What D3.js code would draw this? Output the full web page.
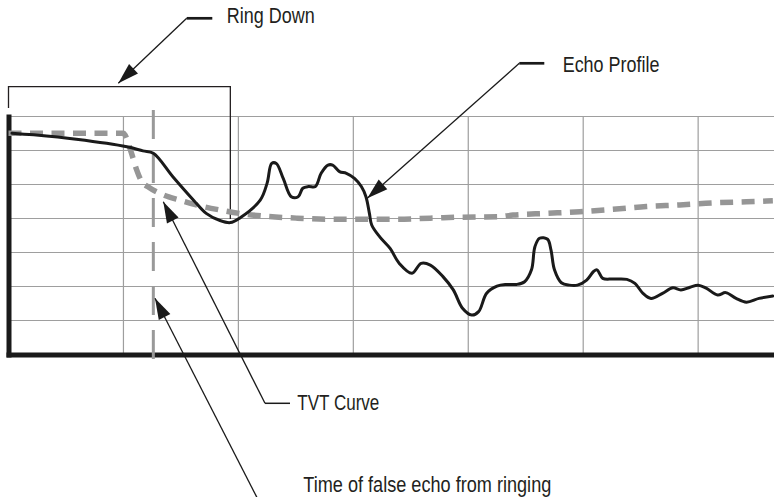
<!DOCTYPE html>
<html>
<head>
<meta charset="utf-8">
<script src="https://cdn.jsdelivr.net/npm/d3@7"></script>
<style>
  html, body { margin: 0; padding: 0; background: #fff; }
  svg { display: block; }
  text { font-family: "Liberation Sans Narrow", "Liberation Sans", Arial, sans-serif; fill: #231f20; }
</style>
</head>
<body>
<svg id="chart" width="774" height="497"></svg>
<script>
// Echo profile (time, level) — black trace
const echoTime = [0.3, 2.2, 5.9, 10.3, 11.7, 12.6, 14.3, 16.1, 17.2, 18.4, 19.3, 20.1, 21.9, 22.5, 22.9, 23.3, 23.9, 24.6, 25.2, 25.6, 26.1, 26.7, 27.2, 27.8, 28.2, 28.8, 29.4, 30.1, 30.7, 31.1, 31.4, 31.6, 32.3, 33.2, 34.0, 35.1, 35.9, 36.7, 37.8, 38.7, 39.5, 40.3, 40.9, 41.6, 42.5, 43.3, 44.2, 44.9, 45.5, 45.8, 46.2, 46.9, 47.2, 47.5, 48.1, 48.8, 49.5, 50.3, 50.9, 51.2, 51.7, 52.6, 53.8, 54.5, 55.2, 55.9, 56.9, 57.8, 58.5, 59.3, 60.0, 60.7, 61.7, 62.4, 63.3, 64.2, 65.3, 66.5];
const echoLevel = [65.1, 64.6, 63.3, 61.1, 59.9, 59.2, 52.3, 45.4, 41.5, 39.4, 38.8, 40.1, 45.4, 50.4, 56.2, 56.2, 51.8, 46.4, 46.4, 48.9, 49.4, 49.4, 53.3, 55.7, 55.7, 53.8, 53.3, 51.8, 49.4, 46.4, 41.5, 38.1, 34.6, 31.2, 26.8, 23.9, 26.8, 26.3, 22.9, 19.0, 13.6, 11.6, 12.6, 18.0, 20.1, 20.6, 20.6, 21.4, 24.9, 31.7, 34.2, 33.9, 30.7, 24.9, 21.1, 20.4, 20.4, 21.9, 24.4, 24.9, 22.4, 22.2, 22.1, 20.9, 18.0, 16.5, 18.0, 19.6, 19.0, 19.8, 20.4, 19.5, 17.5, 18.2, 16.5, 15.4, 16.5, 17.2];

// TVT curve (time, level) — grey dashed threshold
const tvtTime = [0, 10.0, 10.13, 10.7, 11.15, 11.6, 12.2, 13.5, 14.9, 16.7, 18.4, 20.1, 22.2, 25.1, 28.0, 31.4, 33.8, 36.7, 39.5, 42.5, 43.9, 46.8, 49.7, 52.6, 55.5, 58.4, 61.3, 64.2, 66.5];
const tvtLevel = [65.1, 65.1, 64.6, 59.2, 54.3, 50.8, 49.2, 46.9, 45.4, 43.7, 42.5, 41.5, 40.7, 40.1, 39.8, 39.8, 39.8, 40.1, 40.4, 40.5, 41.0, 41.5, 42.0, 42.7, 43.5, 44.0, 44.6, 44.9, 45.2];

// Grid divisions
const timeGrid = [10, 20, 30, 40, 50, 60];
const levelGrid = [10, 20, 30, 40, 50, 60, 70];

// Marked times
const falseEchoTime = 12.6;
const ringDownEnd = 19.3;

const svg = d3.select("#chart");
const W = 774;

const x = d3.scaleLinear().domain([0, 66.6]).range([8.5, 774]);
const y = d3.scaleLinear().domain([0, 70]).range([354.5, 116.5]);

const echo = echoTime.map((t, i) => [t, echoLevel[i]]);
const tvt = tvtTime.map((t, i) => [t, tvtLevel[i]]);

// grid
const grid = svg.append("g").attr("stroke", "#9e9e9e").attr("stroke-width", 1.2);
grid.selectAll("line.h").data(levelGrid).join("line")
  .attr("class", "h")
  .attr("x1", x(0)).attr("x2", W)
  .attr("y1", d => y(d)).attr("y2", d => y(d));
grid.selectAll("line.v").data(timeGrid).join("line")
  .attr("class", "v")
  .attr("x1", d => x(d)).attr("x2", d => x(d))
  .attr("y1", y(70)).attr("y2", y(0));

// axes
const axB = svg.append("g").attr("transform", `translate(0,${y(0)})`)
  .call(d3.axisBottom(x).tickValues([]).tickSizeOuter(0));
const axL = svg.append("g").attr("transform", `translate(${x(0)},0)`)
  .call(d3.axisLeft(y).tickValues([]).tickSizeOuter(0));
[axB, axL].forEach(g => g.select(".domain")
  .attr("stroke", "#1a1a1a").attr("stroke-width", 5).attr("stroke-linecap", "square"));

// Ring Down bracket
svg.append("path")
  .attr("d", `M${x(0)},108 V86.7 H${x(ringDownEnd)} V219`)
  .attr("fill", "none").attr("stroke", "#231f20").attr("stroke-width", 1.3);

// TVT curve
svg.append("path")
  .datum(tvt)
  .attr("d", d3.line().x(d => x(d[0])).y(d => y(d[1])).curve(d3.curveMonotoneX))
  .attr("fill", "none").attr("stroke", "#969696").attr("stroke-width", 5.5)
  .attr("stroke-dasharray", "13,8.5");

// false echo time marker
svg.append("line")
  .attr("x1", x(falseEchoTime)).attr("x2", x(falseEchoTime))
  .attr("y1", 110).attr("y2", 361)
  .attr("stroke", "#999999").attr("stroke-width", 3)
  .attr("stroke-dasharray", "29,15");

// echo profile
svg.append("path")
  .datum(echo)
  .attr("d", d3.line().x(d => x(d[0])).y(d => y(d[1])).curve(d3.curveCatmullRom.alpha(0.5)))
  .attr("fill", "none").attr("stroke", "#1a1a1a").attr("stroke-width", 3)
  .attr("stroke-linejoin", "round").attr("stroke-linecap", "round");

// callouts
function arrow(fx, fy, tx, ty) {
  const g = svg.append("g");
  g.append("line").attr("x1", fx).attr("y1", fy).attr("x2", tx).attr("y2", ty)
    .attr("stroke", "#1a1a1a").attr("stroke-width", 1.3);
  const a = Math.atan2(ty - fy, tx - fx);
  const L = 21, hw = 6.5;
  const bx = tx - L * Math.cos(a), by = ty - L * Math.sin(a);
  const px = -Math.sin(a) * hw, py = Math.cos(a) * hw;
  g.append("path")
    .attr("d", `M${tx},${ty} L${bx + px},${by + py} L${bx - px},${by - py} Z`)
    .attr("fill", "#1a1a1a");
}
function leader(x1, x2, yy, w) {
  svg.append("line").attr("x1", x1).attr("x2", x2).attr("y1", yy).attr("y2", yy)
    .attr("stroke", "#1a1a1a").attr("stroke-width", w);
}
function label(txt, lx, ly, len) {
  svg.append("text").attr("x", lx).attr("y", ly)
    .attr("font-size", 22)
    .attr("textLength", len).attr("lengthAdjust", "spacingAndGlyphs")
    .text(txt);
}

// Ring Down
arrow(186.7, 18.3, 118.3, 83.3);
leader(186.7, 212.3, 18.3, 2.7);
label("Ring Down", 226.7, 23.3, 88);

// Echo Profile
arrow(519.3, 63.3, 367.3, 198.3);
leader(519.3, 544.3, 63.3, 2.7);
label("Echo Profile", 562.7, 71.7, 96.7);

// TVT Curve
arrow(265, 403.3, 163.3, 201.7);
leader(265, 290, 403.3, 1.5);
label("TVT Curve", 297.3, 410, 82);

// Time of false echo
arrow(260.8, 505, 155, 298.3);
leader(260.8, 286, 505, 1.5);
label("Time of false echo from ringing", 303.3, 491.7, 248);
</script>
</body>
</html>
